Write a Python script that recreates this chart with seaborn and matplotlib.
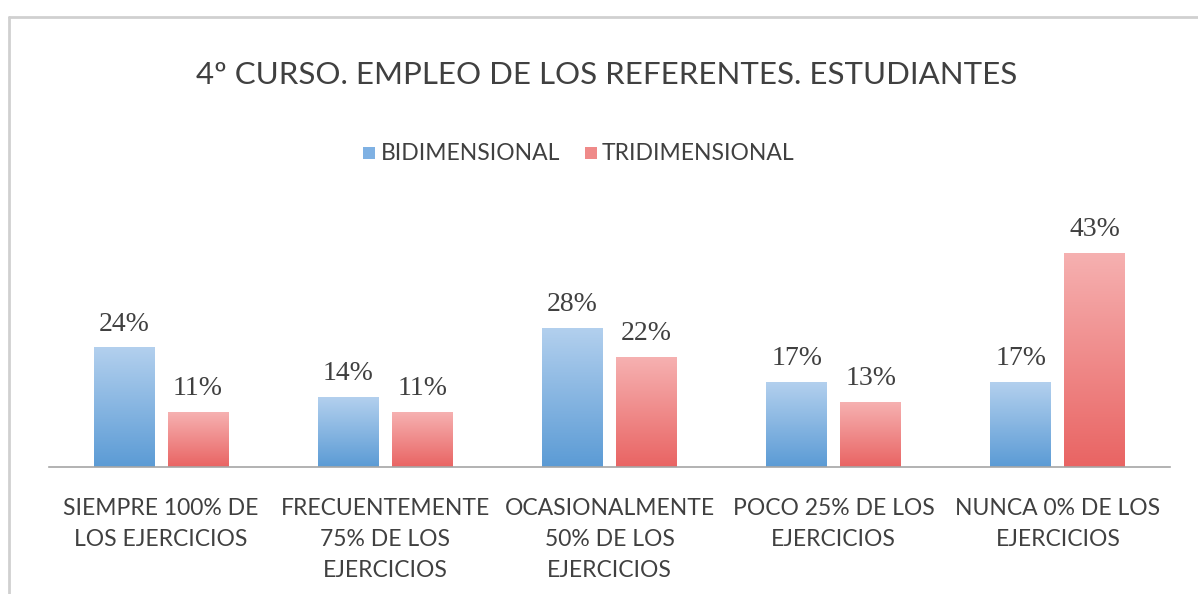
import numpy as np
import pandas as pd
import matplotlib
matplotlib.use("Agg")
import matplotlib.pyplot as plt
from matplotlib.colors import LinearSegmentedColormap
from matplotlib.lines import Line2D
from matplotlib.patches import Rectangle
import seaborn as sns

categories = ["SIEMPRE 100% DE\nLOS EJERCICIOS",
              "FRECUENTEMENTE\n75% DE LOS\nEJERCICIOS",
              "OCASIONALMENTE\n50% DE LOS\nEJERCICIOS",
              "POCO 25% DE LOS\nEJERCICIOS",
              "NUNCA 0% DE LOS\nEJERCICIOS"]
series = ["BIDIMENSIONAL", "TRIDIMENSIONAL"]
bidimensional = [24, 14, 28, 17, 17]
tridimensional = [11, 11, 22, 13, 43]
title = "4º CURSO. EMPLEO DE LOS REFERENTES. ESTUDIANTES"

df = pd.DataFrame({
    "cat": categories * 2,
    "serie": [series[0]] * 5 + [series[1]] * 5,
    "val": bidimensional + tridimensional,
})

sns.set_theme(style="white")
plt.rcParams["font.family"] = ["Lato", "DejaVu Sans"]

W, H = 1198, 594
fig = plt.figure(figsize=(W / 100, H / 100), dpi=100)
fig.patch.set_facecolor("white")

# axes: x from 49 to 1170 px, baseline at 467 px, 5 px per %
ax_left, ax_right = 49, 1170
base_y = 467
top_y = base_y - 50 * 4.98
ax = fig.add_axes([ax_left / W, 1 - base_y / H, (ax_right - ax_left) / W, (base_y - top_y) / H])

blue_top, blue_bot = "#b3d0ee", "#5b9bd5"
red_top, red_bot = "#f6b1b1", "#e96463"

sns.barplot(data=df, x="cat", y="val", hue="serie", order=categories, hue_order=series,
            palette=[blue_bot, red_bot], width=0.66, gap=0.176, ax=ax, legend=False,
            errorbar=None, saturation=1)

ax.set_xlim(-0.5, 4.5)
ax.set_ylim(0, 50)

cmaps = {
    0: LinearSegmentedColormap.from_list("b", [blue_bot, blue_top]),
    1: LinearSegmentedColormap.from_list("r", [red_bot, red_top]),
}
grad = np.linspace(0, 1, 256).reshape(-1, 1)
patches = list(ax.patches)
for i, p in enumerate(patches):
    s = 0 if i < 5 else 1
    x0, y0 = p.get_x(), p.get_y()
    w, h = p.get_width(), p.get_height()
    im = ax.imshow(grad, extent=[x0, x0 + w, y0, y0 + h], origin="lower",
                   cmap=cmaps[s], aspect="auto", zorder=2)
    im.set_clip_path(p)
    p.set_facecolor("none")
    p.set_edgecolor("none")
    ax.text(x0 + w / 2, y0 + h + 2.2, f"{int(round(h))}%", ha="center", va="bottom",
            fontsize=20, family=["Liberation Serif", "DejaVu Serif"], color="#404040",
            zorder=4)

ax.set_xlim(-0.5, 4.5)
ax.set_ylim(0, 50)
ax.set_xlabel("")
ax.set_ylabel("")
ax.set_yticks([])
ax.tick_params(axis="x", length=0, pad=22, labelsize=16.5, labelcolor="#404040")
for lbl in ax.get_xticklabels():
    lbl.set_linespacing(1.6)
for sp in ["top", "right", "left"]:
    ax.spines[sp].set_visible(False)
ax.spines["bottom"].set_color("#a6a6a6")
ax.spines["bottom"].set_linewidth(1.2)
ax.patch.set_alpha(0)

# title
fig.text(607 / W, 1 - 75 / H, title, ha="center", va="center", fontsize=22.5, color="#404040")

# legend
leg_y = 1 - 154 / H
fig.patches.append(Rectangle((363 / W, 1 - 159 / H), 12 / W, 12 / H, transform=fig.transFigure,
                             facecolor="#7fb1e3", edgecolor="none"))
fig.text(381 / W, leg_y, series[0], ha="left", va="center", fontsize=16.5, color="#404040")
fig.patches.append(Rectangle((585 / W, 1 - 159 / H), 12 / W, 12 / H, transform=fig.transFigure,
                             facecolor="#ef8a89", edgecolor="none"))
fig.text(602 / W, leg_y, series[1], ha="left", va="center", fontsize=16.5, color="#404040")

# chart frame (left and top edges)
fig.add_artist(Line2D([9 / W, 9 / W], [0, 1 - 17 / H], transform=fig.transFigure,
                      color="#d0d0d0", lw=2))
fig.add_artist(Line2D([9 / W, 1], [1 - 17 / H, 1 - 17 / H], transform=fig.transFigure,
                      color="#d0d0d0", lw=2))

fig.savefig("out.png", dpi=100, facecolor="white")
